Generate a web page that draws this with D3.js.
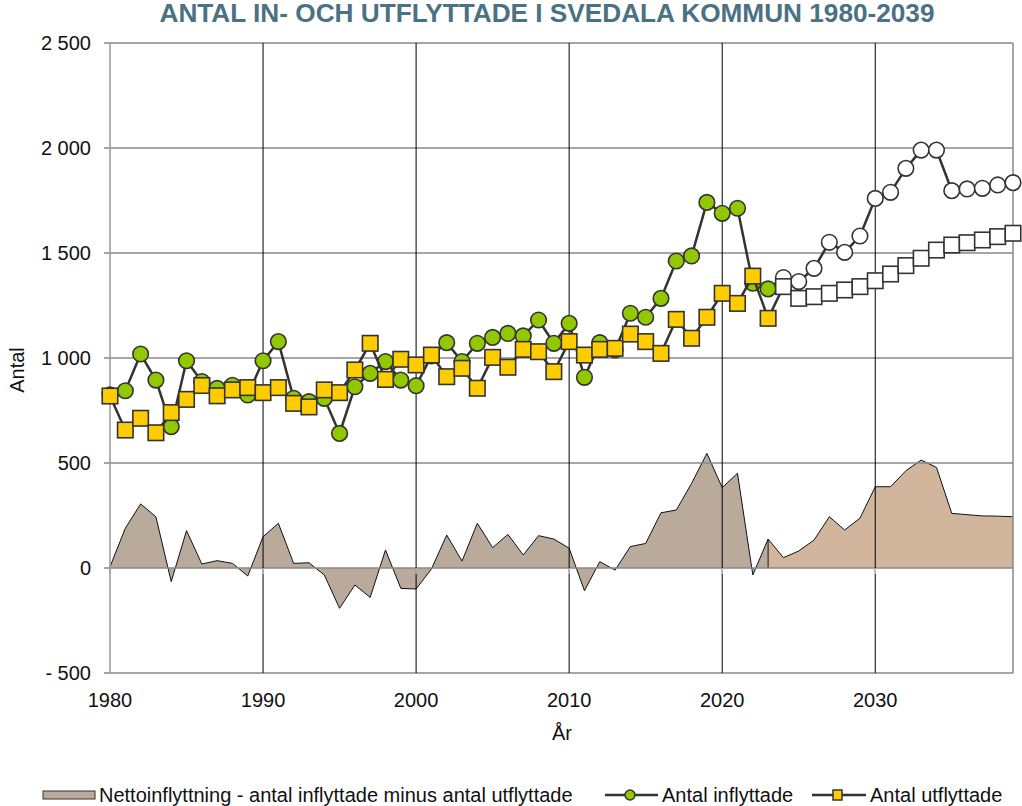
<!DOCTYPE html>
<html><head><meta charset="utf-8">
<script src="https://cdn.jsdelivr.net/npm/d3@7"></script>
<style>
html,body{margin:0;padding:0;background:#fff;}
svg{display:block;}
text{font-family:"Liberation Sans",Arial,sans-serif;}
</style></head>
<body>
<svg id="chart" width="1022" height="806"></svg>
<script>
const title = "ANTAL IN- OCH UTFLYTTADE I SVEDALA KOMMUN 1980-2039";
const startYear = 1980;
const lastHistYear = 2023;
// Antal inflyttade 1980-2023 (utfall)
const inflyttadeUtfall = [825, 844, 1019, 895, 673, 987, 888, 855, 870, 824,
  987, 1078, 808, 792, 808, 641, 863, 927, 983, 895,
  868, 1010, 1073, 983, 1070, 1098, 1117, 1105, 1181, 1070,
  1165, 908, 1073, 1038, 1213, 1194, 1284, 1462, 1486, 1741,
  1689, 1713, 1356, 1329];
// Antal inflyttade 2024-2039 (prognos)
const inflyttadePrognos = [1383, 1364, 1427, 1551, 1503, 1581, 1760, 1789,
  1903, 1990, 1990, 1797, 1805, 1808, 1824, 1835];
// Antal utflyttade 1980-2023 (utfall)
const utflyttadeUtfall = [819, 657, 713, 644, 740, 803, 869, 820, 848, 859,
  835, 859, 784, 767, 848, 835, 943, 1070, 898, 994,
  967, 1014, 911, 951, 856, 1003, 956, 1041, 1030, 935,
  1078, 1014, 1041, 1046, 1114, 1078, 1022, 1184, 1094, 1194,
  1308, 1260, 1390, 1189];
// Antal utflyttade 2024-2039 (prognos)
const utflyttadePrognos = [1340, 1284, 1292, 1308, 1324, 1340, 1368, 1400,
  1440, 1475, 1514, 1538, 1549, 1562, 1578, 1594];
// Nettoinflyttning 1980-2023
const nettoUtfall = [6, 189, 305, 244, -65, 178, 19, 35, 22, -38,
  149, 213, 22, 25, -33, -192, -81, -140, 86, -97,
  -100, -5, 157, 33, 213, 97, 160, 62, 154, 138,
  94, -108, 30, -10, 102, 117, 263, 276, 403, 546,
  383, 451, -33, 138];
// Nettoinflyttning 2023-2039 (prognos)
const nettoPrognos = [138, 49, 81, 133, 244, 181, 237, 387, 387, 463, 514, 479, 260, 254, 248, 247, 244];
const yTicks = [-500, 0, 500, 1000, 1500, 2000, 2500];
const xTicks = [1980, 1990, 2000, 2010, 2020, 2030];
const legendLabels = ["Nettoinflyttning - antal inflyttade minus antal utflyttade", "Antal inflyttade", "Antal utflyttade"];

const svg = d3.select("#chart");
const x = d3.scaleLinear().domain([1980, 2039]).range([110, 1013]);
const y = d3.scaleLinear().domain([-500, 2500]).range([673, 43]);

const inflyttade = inflyttadeUtfall.concat(inflyttadePrognos).map((v, i) => ({year: startYear + i, v}));
const utflyttade = utflyttadeUtfall.concat(utflyttadePrognos).map((v, i) => ({year: startYear + i, v}));
const nettoH = nettoUtfall.map((v, i) => ({year: startYear + i, v}));
const nettoP = nettoPrognos.map((v, i) => ({year: lastHistYear + i, v}));

const fmt = v => v < 0 ? "- " + d3.format(",")(-v).replace(/,/g, " ") : d3.format(",")(v).replace(/,/g, " ");
const FS = 20;

// areas
const area = d3.area().x(d => x(d.year)).y0(y(0)).y1(d => y(d.v));
svg.append("path").datum(nettoH).attr("d", area).attr("fill", "#b9aa9b");
svg.append("path").datum(nettoP).attr("d", area).attr("fill", "#d2b59d");
const line = d3.line().x(d => x(d.year)).y(d => y(d.v));
svg.append("path").datum(nettoH).attr("d", line).attr("fill", "none").attr("stroke", "#111").attr("stroke-width", 1);
svg.append("path").datum([{year: lastHistYear, v: 0}].concat(nettoP)).attr("d", line).attr("fill", "none").attr("stroke", "#111").attr("stroke-width", 1);

// horizontal grid
svg.append("g").selectAll("line").data(yTicks).join("line")
  .attr("x1", 104).attr("x2", x(2039)).attr("y1", d => y(d)).attr("y2", d => y(d))
  .attr("stroke", "#888").attr("stroke-width", 1.5);
// vertical grid
svg.append("g").selectAll("line").data(xTicks.filter(d => d > 1980)).join("line")
  .attr("x1", d => x(d)).attr("x2", d => x(d)).attr("y1", y(2500)).attr("y2", y(-500))
  .attr("stroke", "#000").attr("stroke-width", 1);
// x ticks at zero line
svg.append("g").selectAll("line").data(xTicks).join("line")
  .attr("x1", d => x(d)).attr("x2", d => x(d)).attr("y1", y(0)).attr("y2", y(0) + 6)
  .attr("stroke", "#bbb").attr("stroke-width", 1.5);
// left axis and right border
svg.append("line").attr("x1", x(1980)).attr("x2", x(1980)).attr("y1", y(2500)).attr("y2", y(-500)).attr("stroke", "#999").attr("stroke-width", 1.5);
svg.append("line").attr("x1", x(2039)).attr("x2", x(2039)).attr("y1", y(2500)).attr("y2", y(-500)).attr("stroke", "#888").attr("stroke-width", 1.5);

// y labels
svg.append("g").selectAll("text").data(yTicks).join("text")
  .attr("x", 91).attr("y", d => y(d)).attr("dy", "0.35em").attr("text-anchor", "end")
  .attr("font-size", FS).attr("fill", "#111").text(fmt);
// x labels
svg.append("g").selectAll("text").data(xTicks).join("text")
  .attr("x", d => x(d)).attr("y", 700).attr("dy", "0.35em").attr("text-anchor", "middle")
  .attr("font-size", FS).attr("fill", "#111").text(d => d);
svg.append("text").attr("x", 562).attr("y", 733).attr("dy", "0.35em").attr("text-anchor", "middle")
  .attr("font-size", FS).attr("fill", "#111").text("År");
svg.append("text").attr("transform", "translate(17,370) rotate(-90)").attr("dy", "0.35em").attr("text-anchor", "middle")
  .attr("font-size", FS).attr("fill", "#111").text("Antal");

// title
svg.append("text").attr("x", 547).attr("y", 22).attr("text-anchor", "middle")
  .attr("font-family", "'Liberation Sans Narrow','Liberation Sans',Arial,sans-serif")
  .attr("font-weight", "bold").attr("font-size", 25).attr("fill", "#4b7184")
  .attr("textLength", 775).attr("lengthAdjust", "spacingAndGlyphs").text(title);

// series lines
const sline = d3.line().x(d => x(d.year)).y(d => y(d.v));
svg.append("path").datum(inflyttade).attr("d", sline).attr("fill", "none").attr("stroke", "#333").attr("stroke-width", 2.5);
svg.selectAll("circle.in").data(inflyttade).join("circle").attr("class", "in")
  .attr("cx", d => x(d.year)).attr("cy", d => y(d.v)).attr("r", 7.8)
  .attr("fill", d => d.year <= lastHistYear ? "#92c800" : "#fff").attr("stroke", "#333").attr("stroke-width", 1.6);
svg.append("path").datum(utflyttade).attr("d", sline).attr("fill", "none").attr("stroke", "#333").attr("stroke-width", 2.5);
const sq = 15.5;
svg.selectAll("rect.ut").data(utflyttade).join("rect").attr("class", "ut")
  .attr("x", d => x(d.year) - sq / 2).attr("y", d => y(d.v) - sq / 2).attr("width", sq).attr("height", sq)
  .attr("fill", d => d.year <= lastHistYear ? "#ffcc00" : "#fff").attr("stroke", "#333").attr("stroke-width", 1.6);

// legend
const ly = 795;
const lg = svg.append("g");
lg.append("rect").attr("x", 43).attr("y", ly - 4).attr("width", 52).attr("height", 8).attr("fill", "#b9aa9b").attr("stroke", "#333").attr("stroke-width", 1);
lg.append("text").attr("x", 99).attr("y", ly).attr("dy", "0.35em").attr("font-size", FS).attr("fill", "#111").text(legendLabels[0]);
lg.append("line").attr("x1", 605).attr("x2", 658).attr("y1", ly).attr("y2", ly).attr("stroke", "#333").attr("stroke-width", 2.5);
lg.append("circle").attr("cx", 630).attr("cy", ly).attr("r", 5).attr("fill", "#92c800").attr("stroke", "#333").attr("stroke-width", 1.5);
lg.append("text").attr("x", 662).attr("y", ly).attr("dy", "0.35em").attr("font-size", FS).attr("fill", "#111").text(legendLabels[1]);
lg.append("line").attr("x1", 812).attr("x2", 866).attr("y1", ly).attr("y2", ly).attr("stroke", "#333").attr("stroke-width", 2.5);
lg.append("rect").attr("x", 833).attr("y", ly - 5).attr("width", 9).attr("height", 10).attr("fill", "#ffcc00").attr("stroke", "#333").attr("stroke-width", 1.5);
lg.append("text").attr("x", 870).attr("y", ly).attr("dy", "0.35em").attr("font-size", FS).attr("fill", "#111").text(legendLabels[2]);
</script>
</body></html>
